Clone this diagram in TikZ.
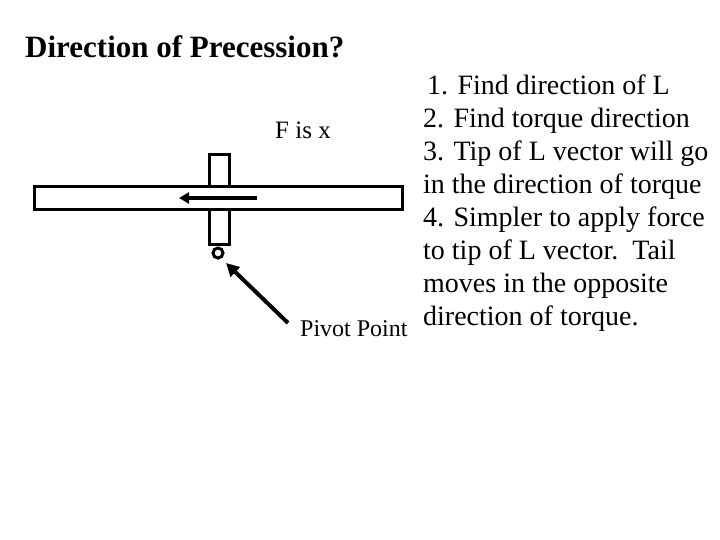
\documentclass[tikz,border=0pt]{standalone}
\usepackage{fontspec}
\setmainfont{Liberation Serif}
\usetikzlibrary{arrows.meta}
\begin{document}
\begin{tikzpicture}[x=1pt,y=-1pt,
  thick/.style={line width=3pt},
  lbl/.style={inner sep=0pt,anchor=base west}]
\useasboundingbox (0,0) rectangle (720,540);
\node[lbl,font=\bfseries\fontsize{31}{36}\selectfont] (title) at (25,58) {Direction of Precession?};
\draw[thick,fill=white] (209,155) rectangle (229,244);
\draw[thick,fill=white] (34,187) rectangle (402,210);
\draw[thick] (218,253) circle (5);
\coordinate (as) at (257,198);
\coordinate (ae) at (179,198);
\draw[line width=3.5pt,-{Triangle[length=10pt,width=11pt]}] (as) -- (ae);
\node[lbl,font=\fontsize{25}{30}\selectfont] (F) at (275,139) {F is x};
\node[lbl,font=\fontsize{24}{28}\selectfont] (pp) at (300,336) {Pivot Point};
\coordinate (pv) at (226,263);
\draw[line width=4pt,-{Triangle[length=13pt,width=13pt]}] (288,323) -- (pv);
\node[inner sep=0pt,anchor=north west,align=left,font=\fontsize{28}{33}\selectfont] (steps) at (423,75) {
\hspace{4pt}1. Find direction of L\\
2. Find torque direction\\
3. Tip of L vector will go\\
in the direction of torque\\
4. Simpler to apply force\\
to tip of L vector.\ \ Tail\\
moves in the opposite\\
direction of torque.};
\end{tikzpicture}
\end{document}
